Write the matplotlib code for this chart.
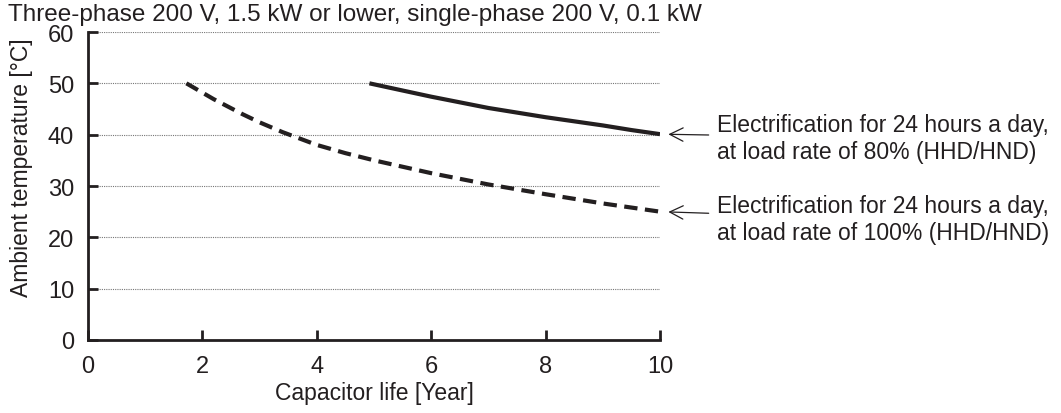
import matplotlib
matplotlib.use('Agg')
import matplotlib.pyplot as plt

plt.rcParams.update({'font.family': ['Liberation Sans', 'DejaVu Sans'],
                     'font.size': 16.5,
                     'axes.linewidth': 2.0})

# 80% load rate curve (solid)
life_80 = [4.92, 5.5, 6.0, 6.5, 7.0, 7.5, 8.0, 8.5, 9.0, 9.5, 10.0]
temp_80 = [50.0, 48.6, 47.4, 46.3, 45.2, 44.3, 43.4, 42.6, 41.8, 40.9, 40.1]

# 100% load rate curve (dashed)
life_100 = [1.72, 2.2, 2.7, 3.0, 3.4, 4.0, 4.5, 5.0, 6.0, 7.0, 8.0, 9.0, 10.0]
temp_100 = [50.0, 46.9, 44.0, 42.4, 40.5, 38.0, 36.4, 35.0, 32.5, 30.3, 28.4, 26.6, 25.0]

xticks = [0, 2, 4, 6, 8, 10]
yticks = [0, 10, 20, 30, 40, 50, 60]

title = 'Three-phase 200 V, 1.5 kW or lower, single-phase 200 V, 0.1 kW'
note_80 = 'Electrification for 24 hours a day,\nat load rate of 80% (HHD/HND)'
note_100 = 'Electrification for 24 hours a day,\nat load rate of 100% (HHD/HND)'

ink = '#231f20'
W, H = 1061, 414

fig = plt.figure(figsize=(10.61, 4.14), dpi=100)
ax = fig.add_axes([88/W, 1-341/H, (660-88)/W, (341-33)/H])

ax.plot(life_80, temp_80, color=ink, lw=3.0, solid_capstyle='butt')
ax.plot(life_100, temp_100, color=ink, lw=3.0, linestyle=(0, (3.2, 1.8)))

ax.set_xlim(0, 10)
ax.set_ylim(0, 60)
ax.set_xticks(xticks)
ax.set_yticks(yticks)
ax.tick_params(direction='in', length=7, width=2, colors=ink, labelsize=17)
ax.tick_params(axis='x', pad=10.5)
ax.tick_params(axis='y', pad=10)

for s in ['top', 'right']:
    ax.spines[s].set_visible(False)
for s in ['left', 'bottom']:
    ax.spines[s].set_color(ink)

ax.yaxis.grid(True, linestyle=(0, (1, 1)), color='#777777', lw=0.8)
ax.set_axisbelow(True)

ax.set_xlabel('Capacitor life [Year]', color=ink)
ax.xaxis.set_label_coords(374/W, 1-394/H, transform=fig.transFigure)
ax.set_ylabel('Ambient temperature [°C]', color=ink)
ax.yaxis.set_label_coords(22/W, 1-168/H, transform=fig.transFigure)
ax.xaxis.label.set_va('center')
ax.yaxis.label.set_va('center')
fig.text(8/W, 1-15/H, title, fontsize=17.5, color=ink, va='center', ha='left')

ax.annotate(note_80, xy=(life_80[-1], temp_80[-1]), xycoords='data',
            xytext=(717/W, 1-139/H), textcoords='figure fraction',
            color=ink, va='center', ha='left', linespacing=1.2,
            arrowprops=dict(arrowstyle='->', color=ink, lw=0.9,
                            shrinkA=4, shrinkB=6, mutation_scale=24))
ax.annotate(note_100, xy=(life_100[-1], temp_100[-1]), xycoords='data',
            xytext=(717/W, 1-220/H), textcoords='figure fraction',
            color=ink, va='center', ha='left', linespacing=1.2,
            arrowprops=dict(arrowstyle='->', color=ink, lw=0.9,
                            shrinkA=4, shrinkB=6, mutation_scale=24))

fig.savefig('out.png', dpi=100)
